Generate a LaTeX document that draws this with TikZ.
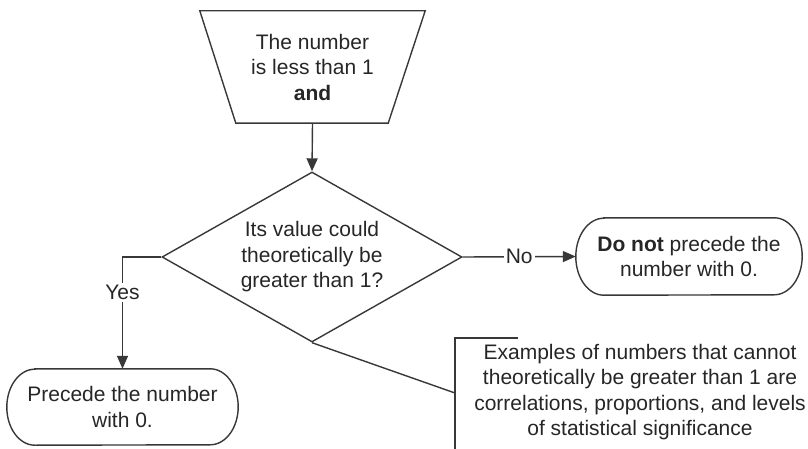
\documentclass[tikz,border=0pt]{standalone}
\usepackage{fontspec}
\setmainfont{Liberation Sans}
\usetikzlibrary{arrows.meta,shapes.geometric}
\begin{document}
\begin{tikzpicture}[x=1pt,y=-1pt,
  line/.style={draw=black!78, line width=1.4pt},
  arr/.style={line, -{Triangle[length=13pt,width=11pt]}},
  txt/.style={font=\fontsize{21}{25.5}\selectfont, text=black!85, align=center, inner sep=0pt},
  lbl/.style={font=\fontsize{21}{25}\selectfont, text=black!85, fill=white, inner sep=2pt},
]
\useasboundingbox (0,0) rectangle (808,449);

% start trapezoid
\node[txt, minimum width=225pt, minimum height=112pt] (start) at (312.5,67) {The number\\is less than 1\\\textbf{and}};
\draw[line] (start.north west) -- (start.north east) -- ([xshift=-37pt]start.south east) -- ([xshift=36pt]start.south west) -- cycle;

% decision
\node[diamond, line, minimum width=300pt, minimum height=170pt, inner sep=0pt] (dec) at (312,257) {};
\node[txt] (dectext) at (dec) {Its value could\\theoretically be\\greater than 1?};

% terminators
\node[txt, minimum width=226pt, minimum height=77pt] (no) at (689,256.5) {\textbf{Do not} precede the\\number with 0.};
\draw[line] ([xshift=28pt]no.north west) -- ([xshift=-28pt]no.north east)
  arc[start angle=90,end angle=-90,x radius=28pt,y radius=38.5pt]
  -- ([xshift=28pt]no.south west)
  arc[start angle=270,end angle=90,x radius=28pt,y radius=38.5pt] -- cycle;

\node[txt, minimum width=231pt, minimum height=76pt] (yes) at (122.5,407) {Precede the number\\with 0.};
\draw[line] ([xshift=28pt]yes.north west) -- ([xshift=-28pt]yes.north east)
  arc[start angle=90,end angle=-90,x radius=28pt,y radius=38pt]
  -- ([xshift=28pt]yes.south west)
  arc[start angle=270,end angle=90,x radius=28pt,y radius=38pt] -- cycle;

% note
\node[txt] (note) at (640,392) {Examples of numbers that cannot\\theoretically be greater than 1 are\\correlations, proportions, and levels\\of statistical significance};
\coordinate (ntop) at (518,338);
\coordinate (ncorner) at (455,338);
\coordinate (nbot) at (455,449);
\coordinate (nhook) at (455,393);
\draw[line] (ntop) -- (ncorner) -- (nbot);
\draw[line] (dec.south) -- (nhook);

% connectors
\draw[arr] (start.south) -- (dec.north);
\draw[arr] (dec.east) -- node[lbl] {No} (no.west);
\draw[arr] (dec.west) -| node[lbl, pos=0.66] {Yes} (yes.north);
\end{tikzpicture}
\end{document}
